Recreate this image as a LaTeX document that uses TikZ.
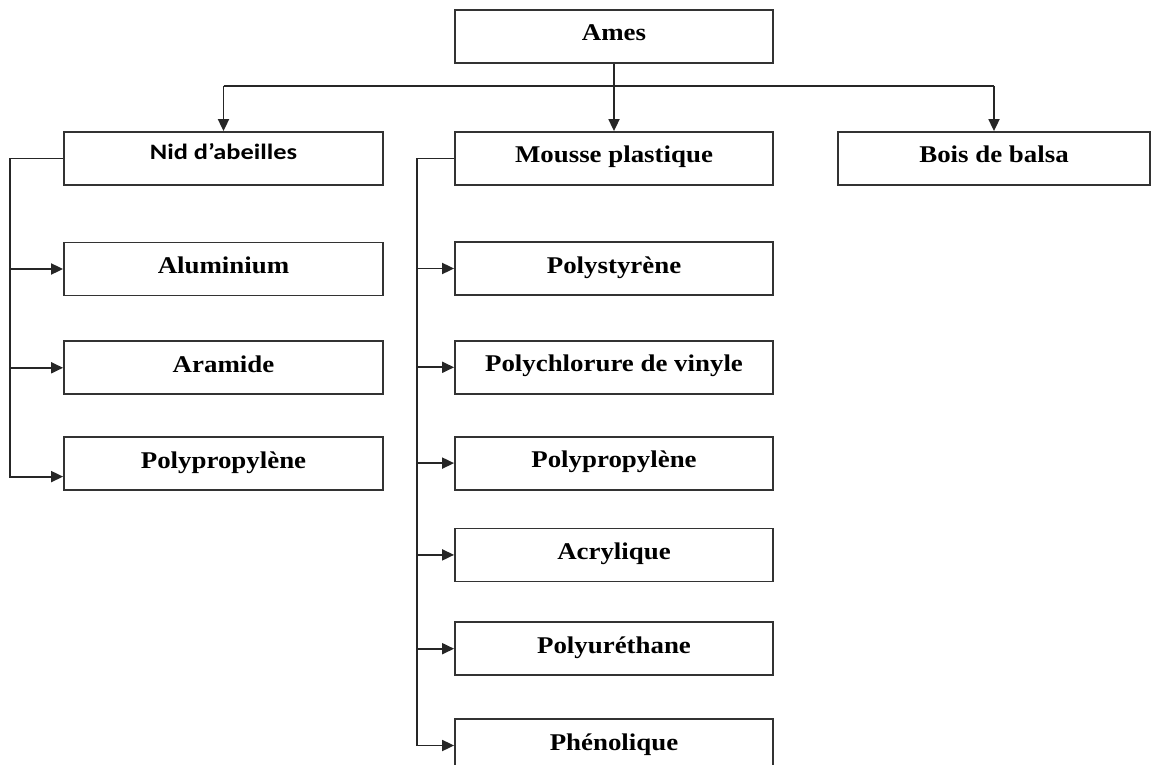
\documentclass[tikz,border=0pt]{standalone}
\usepackage{fontspec}
\setmainfont{Liberation Serif}[FakeStretch=1.12]
\newfontfamily\nidfont{Carlito}[FakeStretch=1.2]
\usetikzlibrary{arrows.meta, positioning}

\begin{document}
\begin{tikzpicture}[
    x=1pt, y=-1pt,
    node distance=44pt,
    box/.style={
        draw=black!80,
        line width=1.8pt,
        minimum width=319pt,
        inner sep=0pt,
        text height=31pt,
        text depth=22pt,
        font=\fontsize{24}{28}\selectfont\bfseries
    },
    arrow/.style={
        -{Triangle[length=12pt,width=11pt]},
        line width=1.8pt,
        draw=black!85
    },
    trunk/.style={
        line width=1.8pt,
        draw=black!85
    }
]
\useasboundingbox (0,0) rectangle (1151,765);

% Top level
\node (ames) [box, minimum width=318pt] at (614,36.5) {Ames};
\node (nid) [box, text height=27pt, text depth=26pt,
    font=\nidfont\fontsize{22}{26}\selectfont\bfseries] at (223.5,158.5) {Nid d’abeilles};
\node (mousse) [box, minimum width=318pt] at (614,158.5) {Mousse plastique};
\node (bois) [box, minimum width=312pt] at (994,158.5) {Bois de balsa};

% Nid d'abeilles
\node (alu) [box] at (223.5,269) {Aluminium};
\node (aram) [box, below=44pt of alu] {Aramide};
\node (ppN) [box, below=41pt of aram] {Polypropylène};

% Mousse plastique
\node (pst) [box, minimum width=318pt] at (614,268.5) {Polystyrène};
\node (pvc) [box, minimum width=318pt, below=44pt of pst] {Polychlorure de vinyle};
\node (ppM) [box, minimum width=318pt, below=41pt of pvc] {Polypropylène};
\node (acr) [box, minimum width=318pt, below=37pt of ppM] {Acrylique};
\node (pur) [box, minimum width=318pt, below=39pt of acr] {Polyuréthane};
\node (phe) [box, minimum width=318pt, below=42pt of pur] {Phénolique};

\coordinate (bus) at (0,86);
\coordinate (trunkN) at (10,0);
\coordinate (trunkM) at (417,0);

% Paths
\draw [trunk] (ames.south) -- (ames.south |- bus);
\draw [trunk] (nid.north |- bus) -- (bois.north |- bus);
\draw [arrow] (nid.north |- bus) -- (nid.north);
\draw [arrow] (mousse.north |- bus) -- (mousse.north);
\draw [arrow] (bois.north |- bus) -- (bois.north);

\draw [arrow] (nid.west) -| ([yshift=-13pt]trunkN |- ppN.west) -- ([yshift=-13pt]ppN.west);
\draw [arrow] (trunkN |- alu.west) -- (alu.west);
\draw [arrow] (trunkN |- aram.west) -- (aram.west);

\draw [arrow] (mousse.west) -| (trunkM |- phe.west) -- (phe.west);
\foreach \n in {pst, pvc, ppM, acr, pur}
    \draw [arrow] (trunkM |- \n.west) -- (\n.west);

\end{tikzpicture}
\end{document}
